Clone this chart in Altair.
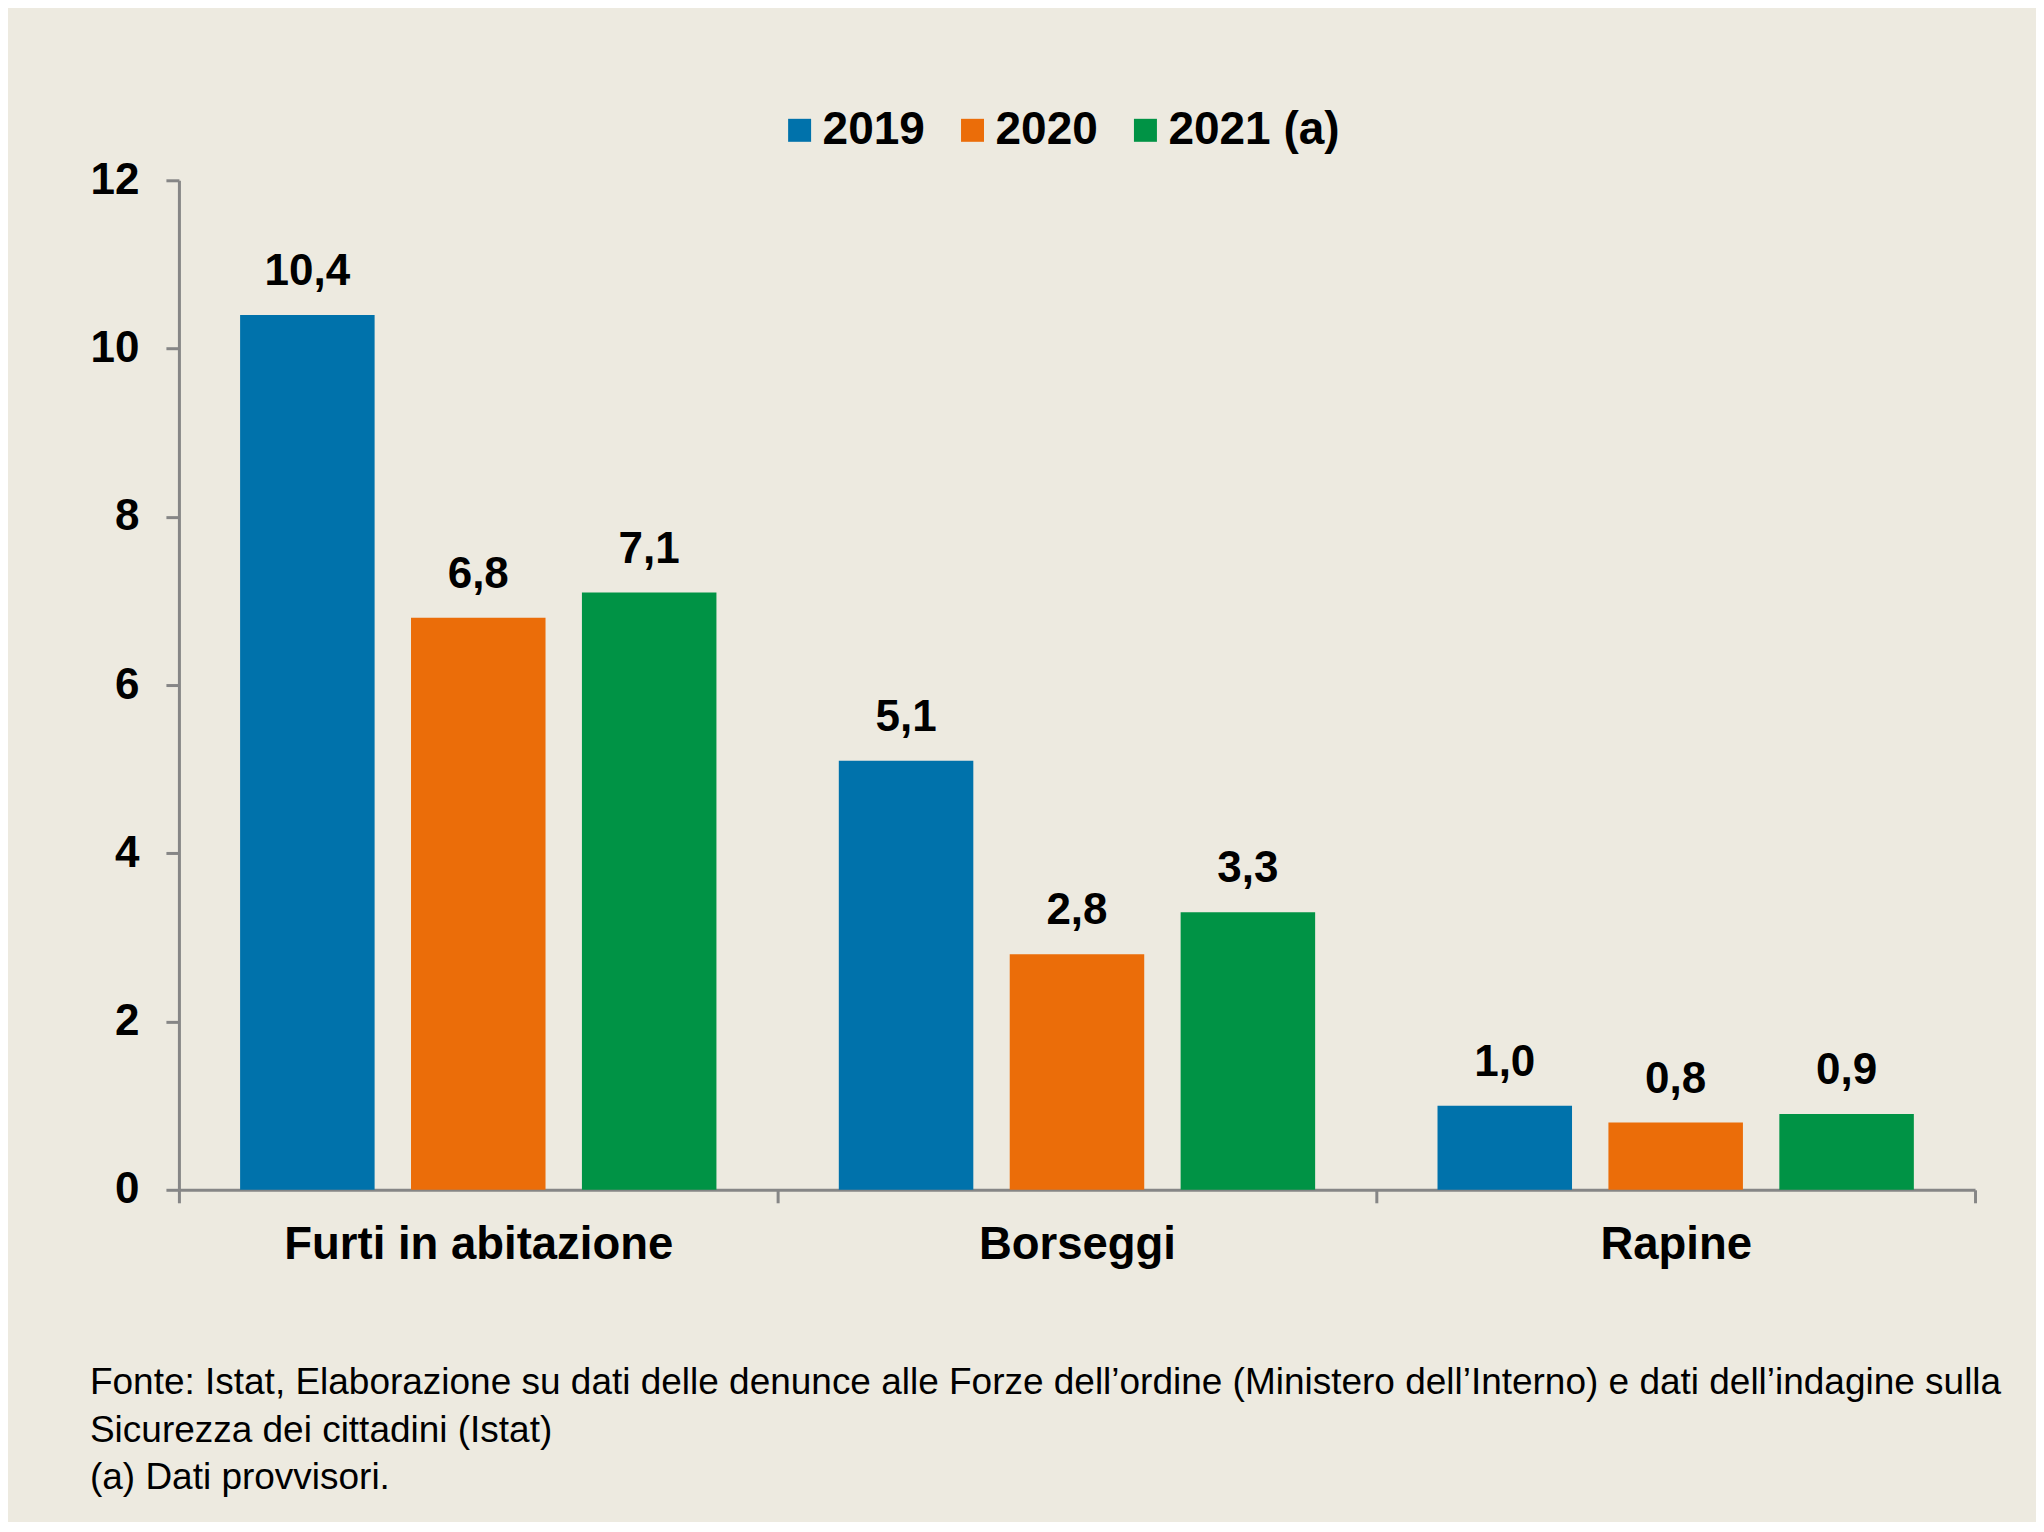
import altair as alt
import pandas as pd

categories = ["Furti in abitazione", "Borseggi", "Rapine"]
years = ["2019", "2020", "2021 (a)"]
values_2019 = [10.4, 5.1, 1.0]
values_2020 = [6.8, 2.8, 0.8]
values_2021 = [7.1, 3.3, 0.9]
colors = ["#0072AB", "#EB6D09", "#009345"]
y_ticks = [0, 2, 4, 6, 8, 10, 12]
footnote = [
    "Fonte: Istat, Elaborazione su dati delle denunce alle Forze dell\u2019ordine (Ministero dell\u2019Interno) e dati dell\u2019indagine sulla",
    "Sicurezza dei cittadini (Istat)",
    "(a) Dati provvisori.",
]

rows = []
for yr, series in zip(years, [values_2019, values_2020, values_2021]):
    for cat, v in zip(categories, series):
        rows.append({"cat": cat, "year": yr, "value": v,
                     "label": f"{v:.1f}".replace(".", ",")})
df = pd.DataFrame(rows)

FONT = "Liberation Sans"
GREY = "#868686"
BG = "#EDEAE0"

x_enc = alt.X(
    "cat:N", sort=categories,
    scale=alt.Scale(paddingInner=0, paddingOuter=0),
    axis=alt.Axis(
        title=None, labelAngle=0, tickBand="extent", tickSize=13,
        tickWidth=3, tickColor=GREY, domainColor=GREY, domainWidth=3,
        labelFontSize=45.5, labelFontWeight="bold", labelFont=FONT,
        labelColor="black", labelPadding=20, labelLimit=0,
    ),
)
xoff = alt.XOffset("year:N", sort=years,
                   scale=alt.Scale(paddingInner=0.213, paddingOuter=0.358))
y_enc = alt.Y(
    "value:Q",
    scale=alt.Scale(domain=[0, 12], nice=False),
    axis=alt.Axis(
        title=None, values=y_ticks, grid=False, tickSize=13, tickWidth=3,
        tickColor=GREY, domainColor=GREY, domainWidth=3,
        labelFontSize=44, labelFontWeight="bold", labelFont=FONT,
        labelColor="black", labelPadding=27,
    ),
)

bars = alt.Chart(df).mark_bar().encode(
    x=x_enc, xOffset=xoff, y=y_enc,
    color=alt.Color(
        "year:N", sort=years,
        scale=alt.Scale(domain=years, range=colors),
        legend=alt.Legend(
            title=None, orient="none", legendX=598, legendY=-73,
            direction="horizontal", symbolType="square", symbolSize=529,
            symbolStrokeWidth=0, labelFontSize=46, labelFontWeight="bold",
            labelFont=FONT, labelColor="black", labelOffset=0,
            columnPadding=24, labelLimit=0,
        ),
    ),
)

labels = alt.Chart(df).mark_text(
    baseline="alphabetic", dy=-30, fontSize=44, fontWeight="bold",
    font=FONT, color="black",
).encode(x=x_enc, xOffset=xoff, y=y_enc, text="label:N")

chart = alt.layer(bars, labels).properties(
    width=1797, height=1010,
    title=alt.TitleParams(
        text=footnote, orient="bottom", anchor="start", frame="group",
        dx=-89, offset=97, fontSize=37, fontWeight="normal", font=FONT,
        color="black", lineHeight=47.5, limit=0,
    ),
    padding={"left": 171, "top": 172, "right": 61, "bottom": 332},
    autosize=alt.AutoSizeParams(type="none"),
).configure(background=BG).configure_view(stroke=None)

chart.save("out.html", embed_options={"renderer": "svg", "actions": False})
